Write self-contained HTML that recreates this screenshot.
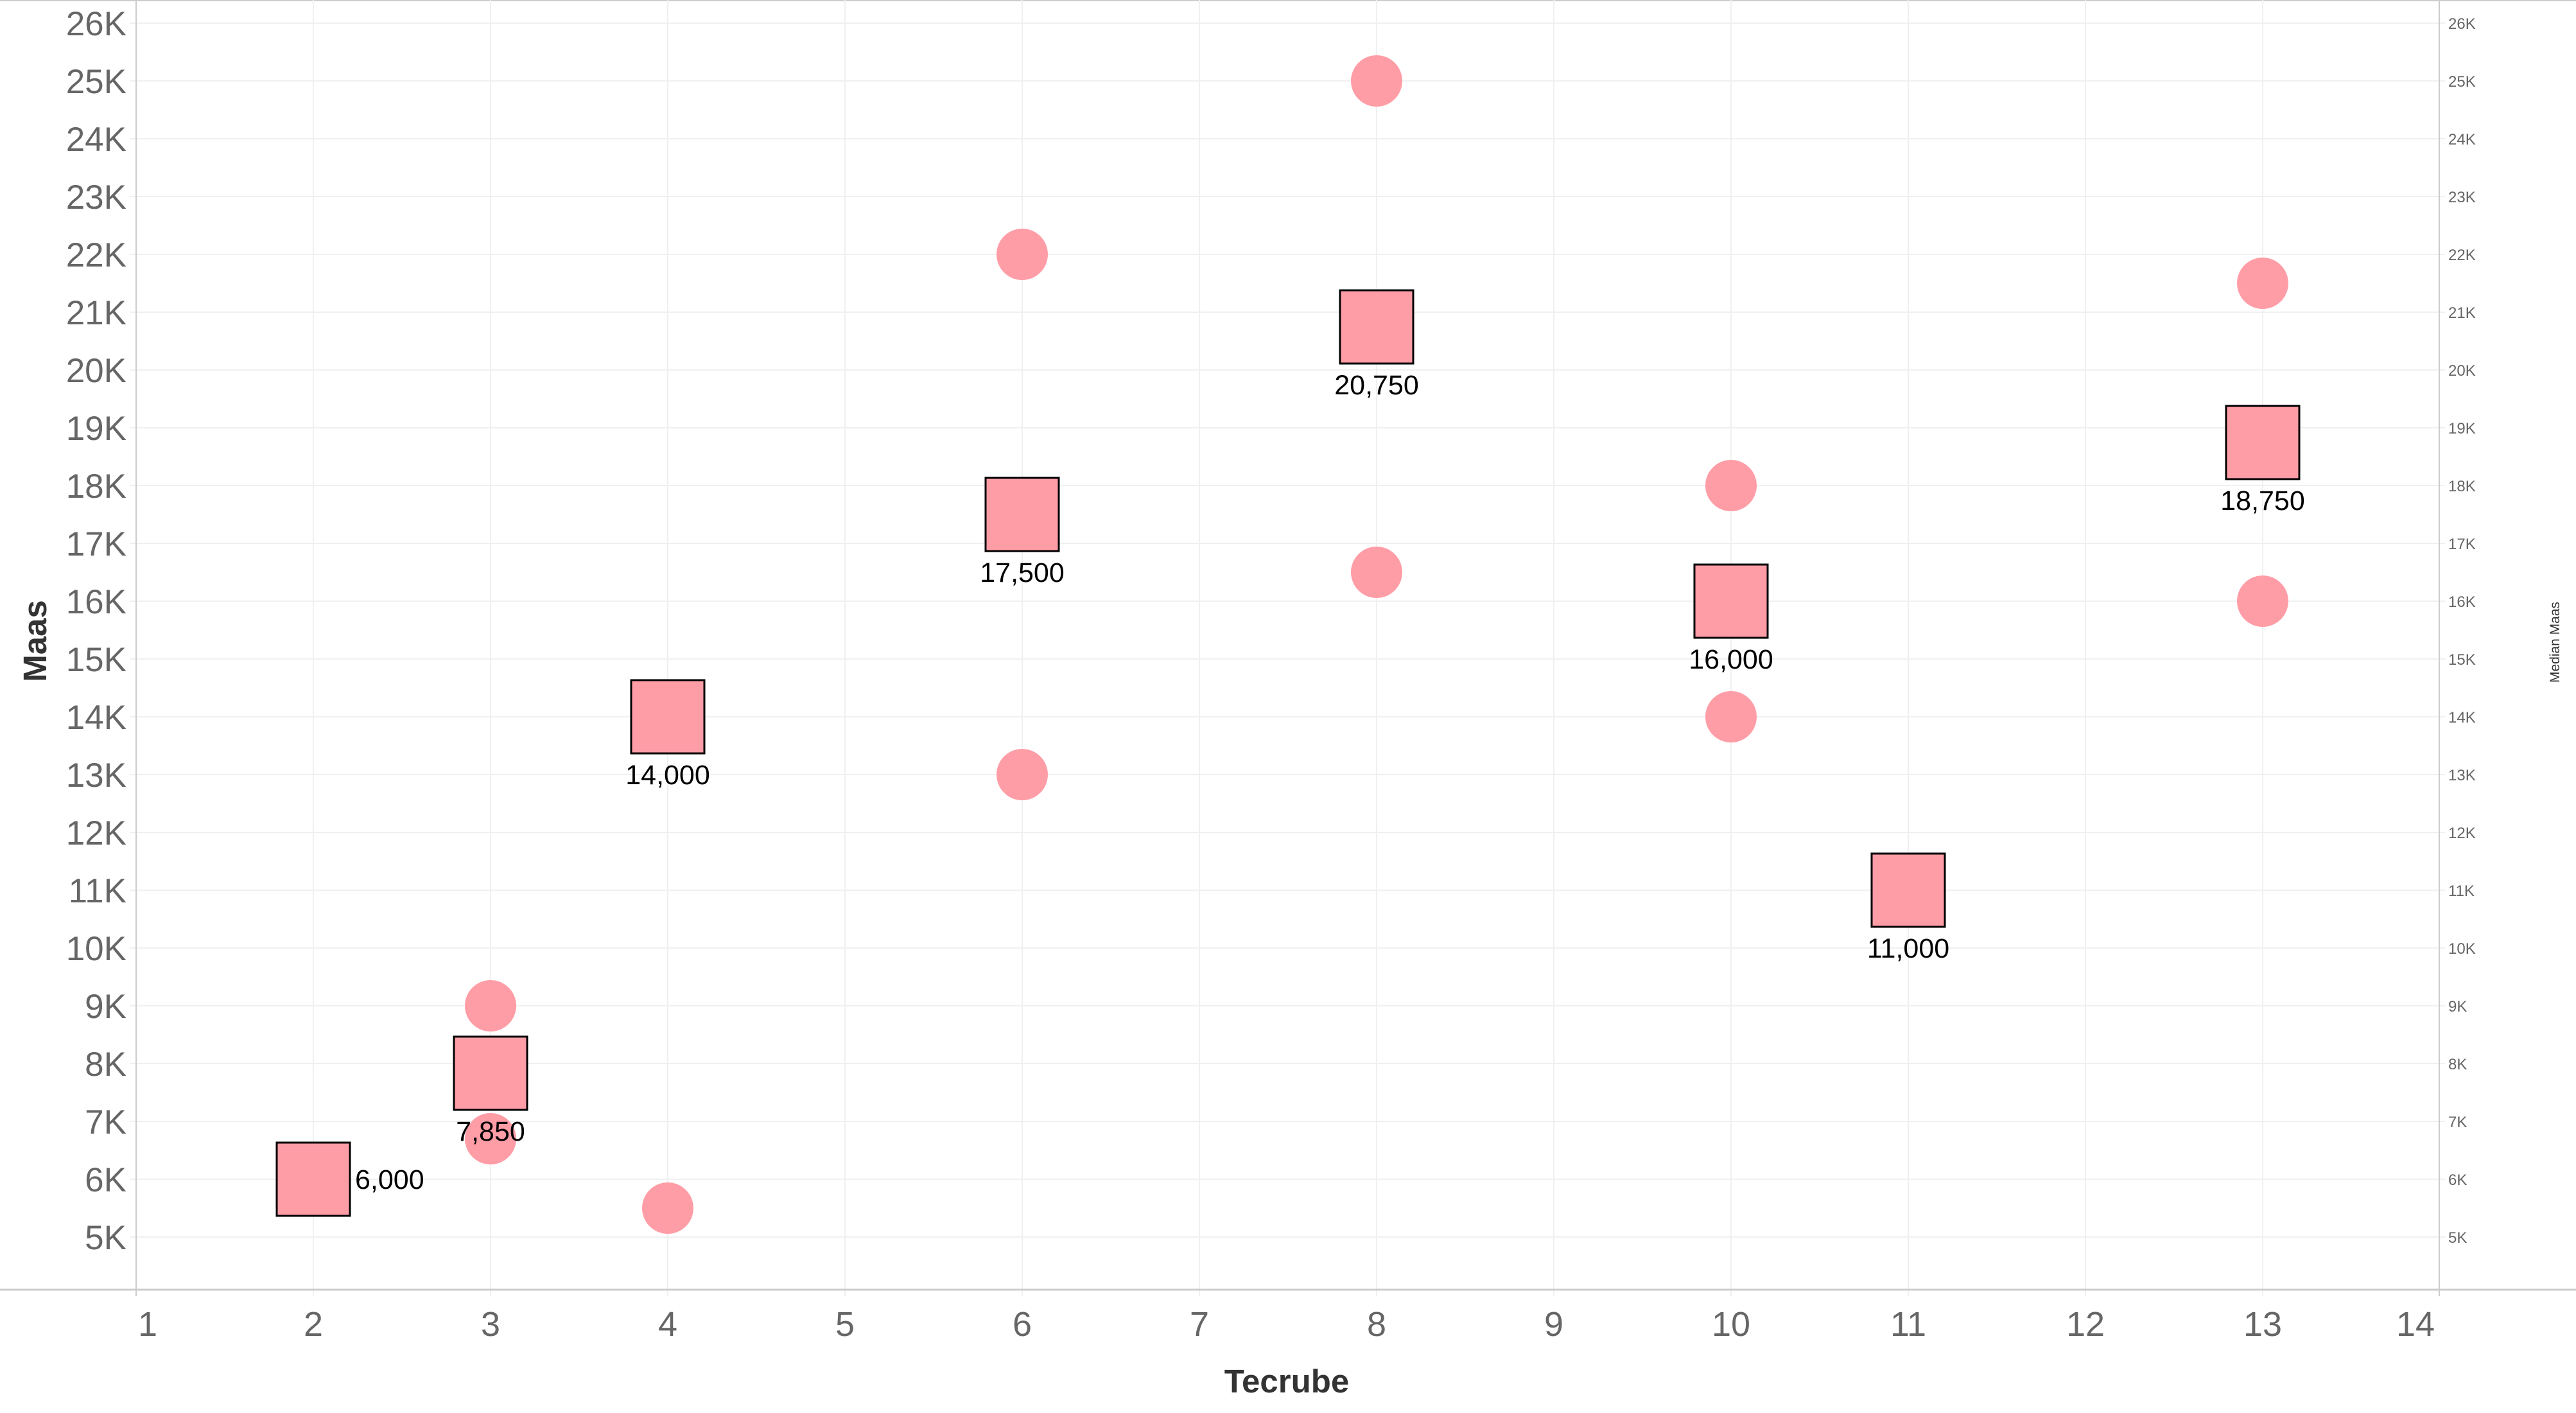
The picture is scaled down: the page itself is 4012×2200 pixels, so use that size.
<!DOCTYPE html>
<html><head><meta charset="utf-8"><style>
html,body{margin:0;padding:0;background:#fff;}
svg{display:block;font-family:"Liberation Sans",sans-serif;}
</style></head><body>
<svg width="4012" height="2200" viewBox="0 0 4012 2200" xmlns="http://www.w3.org/2000/svg">
<rect x="0" y="0" width="4012" height="2200" fill="#fff"/>
<line x1="0" y1="1" x2="4012" y2="1" stroke="#ccc" stroke-width="2"/>
<g stroke="#f0f0f0" stroke-width="2">
<line x1="202" y1="36" x2="3808" y2="36"/><line x1="202" y1="126" x2="3808" y2="126"/><line x1="202" y1="216" x2="3808" y2="216"/><line x1="202" y1="306" x2="3808" y2="306"/><line x1="202" y1="396" x2="3808" y2="396"/><line x1="202" y1="486" x2="3808" y2="486"/><line x1="202" y1="576" x2="3808" y2="576"/><line x1="202" y1="666" x2="3808" y2="666"/><line x1="202" y1="756" x2="3808" y2="756"/><line x1="202" y1="846" x2="3808" y2="846"/><line x1="202" y1="936" x2="3808" y2="936"/><line x1="202" y1="1026" x2="3808" y2="1026"/><line x1="202" y1="1116" x2="3808" y2="1116"/><line x1="202" y1="1206" x2="3808" y2="1206"/><line x1="202" y1="1296" x2="3808" y2="1296"/><line x1="202" y1="1386" x2="3808" y2="1386"/><line x1="202" y1="1476" x2="3808" y2="1476"/><line x1="202" y1="1566" x2="3808" y2="1566"/><line x1="202" y1="1656" x2="3808" y2="1656"/><line x1="202" y1="1746" x2="3808" y2="1746"/><line x1="202" y1="1836" x2="3808" y2="1836"/><line x1="202" y1="1926" x2="3808" y2="1926"/>
<line x1="488" y1="0" x2="488" y2="2018"/><line x1="764" y1="0" x2="764" y2="2018"/><line x1="1040" y1="0" x2="1040" y2="2018"/><line x1="1316" y1="0" x2="1316" y2="2018"/><line x1="1592" y1="0" x2="1592" y2="2018"/><line x1="1868" y1="0" x2="1868" y2="2018"/><line x1="2144" y1="0" x2="2144" y2="2018"/><line x1="2420" y1="0" x2="2420" y2="2018"/><line x1="2696" y1="0" x2="2696" y2="2018"/><line x1="2972" y1="0" x2="2972" y2="2018"/><line x1="3248" y1="0" x2="3248" y2="2018"/><line x1="3524" y1="0" x2="3524" y2="2018"/>
</g>
<line x1="212" y1="0" x2="212" y2="2018" stroke="#ccc" stroke-width="2"/>
<line x1="3799" y1="0" x2="3799" y2="2018" stroke="#ccc" stroke-width="2"/>
<line x1="0" y1="2008" x2="4012" y2="2008" stroke="#ccc" stroke-width="3"/>
<g fill="#666" font-size="53" text-anchor="end">
<text x="197" y="55">26K</text><text x="197" y="145">25K</text><text x="197" y="235">24K</text><text x="197" y="325">23K</text><text x="197" y="415">22K</text><text x="197" y="505">21K</text><text x="197" y="595">20K</text><text x="197" y="685">19K</text><text x="197" y="775">18K</text><text x="197" y="865">17K</text><text x="197" y="955">16K</text><text x="197" y="1045">15K</text><text x="197" y="1135">14K</text><text x="197" y="1225">13K</text><text x="197" y="1315">12K</text><text x="197" y="1405">11K</text><text x="197" y="1495">10K</text><text x="197" y="1585">9K</text><text x="197" y="1675">8K</text><text x="197" y="1765">7K</text><text x="197" y="1855">6K</text><text x="197" y="1945">5K</text>
</g>
<g fill="#666" font-size="24">
<text x="3813" y="45">26K</text><text x="3813" y="135">25K</text><text x="3813" y="225">24K</text><text x="3813" y="315">23K</text><text x="3813" y="405">22K</text><text x="3813" y="495">21K</text><text x="3813" y="585">20K</text><text x="3813" y="675">19K</text><text x="3813" y="765">18K</text><text x="3813" y="855">17K</text><text x="3813" y="945">16K</text><text x="3813" y="1035">15K</text><text x="3813" y="1125">14K</text><text x="3813" y="1215">13K</text><text x="3813" y="1305">12K</text><text x="3813" y="1395">11K</text><text x="3813" y="1485">10K</text><text x="3813" y="1575">9K</text><text x="3813" y="1665">8K</text><text x="3813" y="1755">7K</text><text x="3813" y="1845">6K</text><text x="3813" y="1935">5K</text>
</g>
<g fill="#666" font-size="54" text-anchor="middle">
<text x="230" y="2080">1</text><text x="488" y="2080">2</text><text x="764" y="2080">3</text><text x="1040" y="2080">4</text><text x="1316" y="2080">5</text><text x="1592" y="2080">6</text><text x="1868" y="2080">7</text><text x="2144" y="2080">8</text><text x="2420" y="2080">9</text><text x="2696" y="2080">10</text><text x="2972" y="2080">11</text><text x="3248" y="2080">12</text><text x="3524" y="2080">13</text><text x="3762" y="2080">14</text>
</g>
<text x="2004" y="2168" text-anchor="middle" font-size="51" font-weight="bold" fill="#333">Tecrube</text>
<text transform="translate(72,998) rotate(-90)" text-anchor="middle" font-size="51" font-weight="bold" fill="#333">Maas</text>
<text transform="translate(3986,1000) rotate(-90)" text-anchor="middle" font-size="21" fill="#333">Median Maas</text>
<g fill="#FF9DA7">
<circle cx="764" cy="1566" r="40"/><circle cx="764" cy="1773" r="40"/><circle cx="1040" cy="1881" r="40"/>
<circle cx="1592" cy="396" r="40"/><circle cx="1592" cy="1206" r="40"/>
<circle cx="2144" cy="126" r="40"/><circle cx="2144" cy="891" r="40"/>
<circle cx="2696" cy="756" r="40"/><circle cx="2696" cy="1116" r="40"/>
<circle cx="3524" cy="441" r="40"/><circle cx="3524" cy="936" r="40"/>
</g>
<g fill="#FF9DA7" stroke="#000" stroke-width="3">
<rect x="431" y="1779" width="114" height="114"/>
<rect x="707" y="1614" width="114" height="114"/>
<rect x="983" y="1059" width="114" height="114"/>
<rect x="1535" y="744" width="114" height="114"/>
<rect x="2087" y="452" width="114" height="114"/>
<rect x="2639" y="879" width="114" height="114"/>
<rect x="2915" y="1329" width="114" height="114"/>
<rect x="3467" y="632" width="114" height="114"/>
</g>
<g fill="#000" font-size="43" text-anchor="middle" font-family="'Liberation Sans',sans-serif">
<text x="553" y="1851" text-anchor="start">6,000</text>
<text x="764" y="1776">7,850</text>
<text x="1040" y="1221">14,000</text>
<text x="1592" y="906">17,500</text>
<text x="2144" y="614">20,750</text>
<text x="2696" y="1041">16,000</text>
<text x="2972" y="1491">11,000</text>
<text x="3524" y="794">18,750</text>
</g>
</svg>
</body></html>
